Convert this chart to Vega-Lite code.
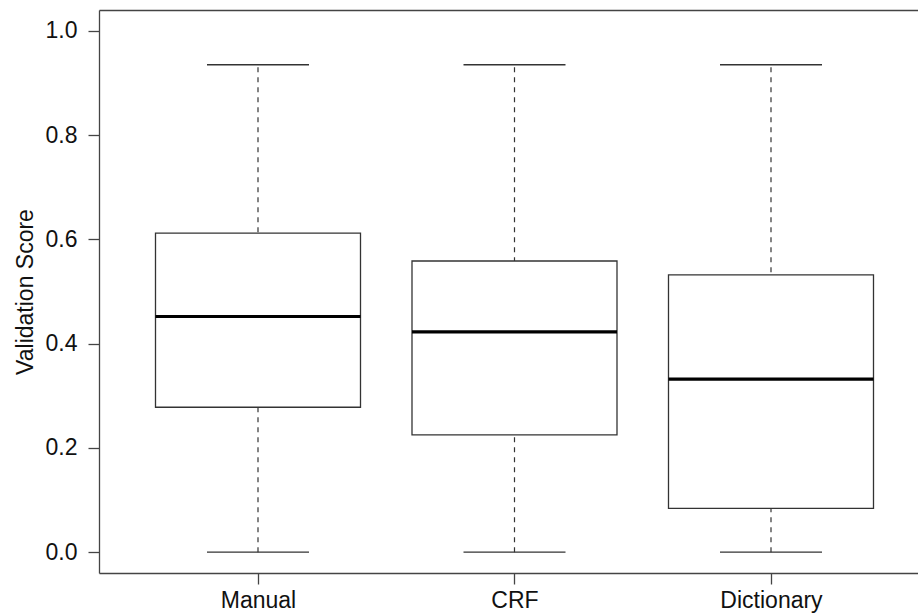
{
  "$schema": "https://vega.github.io/schema/vega-lite/v6.json",
  "autosize": {"type": "none"},
  "width": 819,
  "height": 563,
  "padding": {"left": 99, "top": 10, "right": 0, "bottom": 42},
  "background": "white",
  "data": {
    "values": [
      {"method": "Manual", "min": 0, "q1": 0.278, "median": 0.452, "q3": 0.612, "max": 0.935},
      {"method": "CRF", "min": 0, "q1": 0.225, "median": 0.4225, "q3": 0.5585, "max": 0.935},
      {"method": "Dictionary", "min": 0, "q1": 0.0838, "median": 0.332, "q3": 0.532, "max": 0.935}
    ]
  },
  "config": {
    "view": {"stroke": null},
    "axis": {
      "domainColor": "#444",
      "tickColor": "#444",
      "domainWidth": 1.3,
      "tickWidth": 1.3,
      "grid": false,
      "labelFont": "Liberation Sans",
      "labelFontSize": 23,
      "labelColor": "#111",
      "titleFont": "Liberation Sans",
      "titleFontSize": 23,
      "titleFontWeight": "normal",
      "titleColor": "#111"
    }
  },
  "resolve": {"axis": {"x": "independent"}},
  "layer": [
    {
      "mark": {"type": "rule", "color": "#333", "strokeWidth": 1.2, "strokeDash": [5, 5]},
      "encoding": {
        "x": {
          "field": "method", "type": "nominal", "sort": null,
          "scale": {"type": "point", "domain": ["Manual", "CRF", "Dictionary"], "padding": 0.5965, "align": 0.5196},
          "axis": {"orient": "bottom", "title": null, "labelAngle": 0, "tickSize": 11, "labelPadding": 5, "domain": true}
        },
        "y": {
          "field": "min", "type": "quantitative",
          "scale": {"domain": [-0.04, 1.04], "nice": false, "zero": false},
          "axis": {"title": "Validation Score", "values": [0, 0.2, 0.4, 0.6, 0.8, 1.0], "format": ".1f", "tickSize": 11, "labelPadding": 11, "titleBaseline": "alphabetic", "titleX": -67, "titleAngle": 270}
        },
        "y2": {"field": "max"}
      }
    },
    {
      "mark": {"type": "tick", "color": "#333", "opacity": 1, "thickness": 1.3, "size": 102},
      "encoding": {
        "x": {"field": "method", "type": "nominal", "sort": null,
          "axis": {"orient": "top", "title": null, "labels": false, "ticks": false, "domain": true}},
        "y": {"field": "max", "type": "quantitative"}
      }
    },
    {
      "mark": {"type": "tick", "color": "#333", "opacity": 1, "thickness": 1.3, "size": 102},
      "encoding": {
        "x": {"field": "method", "type": "nominal", "sort": null, "axis": null},
        "y": {"field": "min", "type": "quantitative"}
      }
    },
    {
      "mark": {"type": "bar", "fill": "white", "stroke": "#333", "strokeWidth": 1.3, "size": 205},
      "encoding": {
        "x": {"field": "method", "type": "nominal", "sort": null, "axis": null},
        "y": {"field": "q1", "type": "quantitative"},
        "y2": {"field": "q3"}
      }
    },
    {
      "mark": {"type": "tick", "color": "black", "opacity": 1, "thickness": 3.2, "size": 205},
      "encoding": {
        "x": {"field": "method", "type": "nominal", "sort": null, "axis": null},
        "y": {"field": "median", "type": "quantitative"}
      }
    }
  ]
}
